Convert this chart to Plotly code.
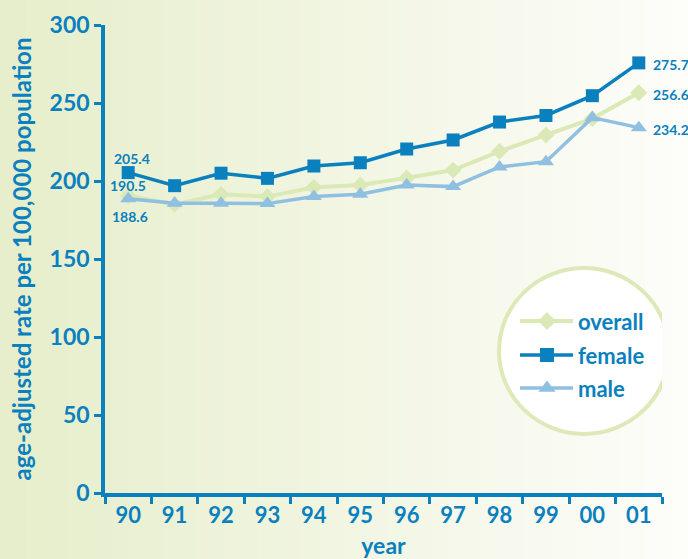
import plotly.graph_objects as go

# Age-adjusted rates per 100,000 population, 1990-2001
years = ["90", "91", "92", "93", "94", "95", "96", "97", "98", "99", "00", "01"]
overall = [190.5, 185.0, 191.5, 190.0, 196.0, 197.5, 202.0, 207.0, 219.0, 229.5, 240.0, 256.6]
female = [205.4, 197.0, 205.0, 201.7, 209.6, 211.7, 220.5, 226.3, 237.8, 242.0, 254.7, 275.7]
male = [188.6, 185.7, 185.7, 185.5, 190.0, 191.5, 197.4, 196.4, 209.0, 212.4, 240.6, 234.2]

y_ticks = [0, 50, 100, 150, 200, 250, 300]

BLUE = "#0a80be"
LIGHT_BLUE = "#8fbfe1"
GREEN = "#dbe9b7"
FONT = "Lato"

W, H = 688, 559
L, R, T, B = 105, 26, 25, 66
PW, PH = W - L - R, H - T - B

fig = go.Figure()

series = [
    ("overall", overall, GREEN, "diamond", 13, 4),
    ("male", male, LIGHT_BLUE, "triangle-up", 14, 3.5),
    ("female", female, BLUE, "square", 13, 3.5),
]
for name, vals, col, sym, size, lw in series:
    fig.add_trace(go.Scatter(
        x=years, y=vals, mode="lines+markers", name=name,
        line=dict(color=col, width=lw),
        marker=dict(symbol=sym, size=size, color=col),
        showlegend=False, cliponaxis=False,
    ))

# Legend samples drawn on a hidden pixel-scaled overlay axis pair
legend_rows = [("overall", GREEN, "diamond", 13, 4, 321),
               ("female", BLUE, "square", 13, 3.5, 355),
               ("male", LIGHT_BLUE, "triangle-up", 14, 3.5, 388)]
for name, col, sym, size, lw, py in legend_rows:
    fig.add_trace(go.Scatter(
        x=[520, 573], y=[py, py], mode="lines", xaxis="x2", yaxis="y2",
        line=dict(color=col, width=lw), showlegend=False, hoverinfo="skip"))
    fig.add_trace(go.Scatter(
        x=[547], y=[py], mode="markers", xaxis="x2", yaxis="y2",
        marker=dict(symbol=sym, size=size + 1, color=col), showlegend=False, hoverinfo="skip"))

annotations = []
for name, col, sym, size, lw, py in legend_rows:
    annotations.append(dict(x=576, y=py, xref="x2", yref="y2", text=name, showarrow=False,
                            xanchor="left", yanchor="middle",
                            font=dict(family=FONT, size=22, color=BLUE, weight="bold")))

# Value labels at the first and last year (category index positions)
lbl_font = dict(family=FONT, size=14, color=BLUE, weight="bold")
first, last = 0, len(years) - 1
value_labels = [
    dict(x=first, y=female[first], text=f"{female[first]:.1f}", xshift=4, yshift=14),
    dict(x=first, y=overall[first], text=f"{overall[first]:.1f}", xshift=0, yshift=10),
    dict(x=first, y=male[first], text=f"{male[first]:.1f}", xshift=2, yshift=-18),
]
for vals in (female, overall, male):
    value_labels.append(dict(x=last, y=vals[last], text=f"{vals[last]:.1f}",
                             xanchor="left", xshift=12, yshift=-2))
for a in value_labels:
    a.update(showarrow=False, font=lbl_font, yanchor="middle", xref="x", yref="y")
annotations += value_labels

# Background: horizontal gradient built from thin strips
shapes = []
n = 80
c0 = (230, 238, 203)
c1 = (253, 253, 250)
for i in range(n):
    f = i / (n - 1)
    col = "rgb({},{},{})".format(*[round(a + (b - a) * f) for a, b in zip(c0, c1)])
    x0 = (i * W / n - L) / PW
    x1 = ((i + 1) * W / n - L) / PW + 0.002
    shapes.append(dict(type="rect", xref="paper", yref="paper", x0=x0, x1=x1,
                       y0=-B / PH - 0.02, y1=(PH + T) / PH + 0.02,
                       fillcolor=col, line=dict(width=0), layer="below"))

# Legend ring
shapes.append(dict(type="circle", xref="x2", yref="y2", x0=499, x1=669, y0=268, y1=434,
                   fillcolor="#ffffff", line=dict(color="#dde9b9", width=4), layer="below"))

fig.update_layout(
    width=W, height=H,
    margin=dict(l=L, r=R, t=T, b=B, autoexpand=False),
    paper_bgcolor="#f1f5e0", plot_bgcolor="rgba(0,0,0,0)",
    shapes=shapes, annotations=annotations,
    xaxis=dict(
        type="category", categoryorder="array", categoryarray=years,
        range=[-0.5, 11.5], showgrid=False, zeroline=False, automargin=False,
        showline=True, linecolor=BLUE, linewidth=3.5,
        ticks="outside", tickson="boundaries", ticklen=7, tickwidth=3, tickcolor=BLUE,
        tickfont=dict(family=FONT, size=22, color=BLUE, weight="bold"),
        title=dict(text="year", font=dict(family=FONT, size=23, color=BLUE, weight="bold"), standoff=12),
    ),
    yaxis=dict(
        range=[0, 300], tickvals=y_ticks, showgrid=False, zeroline=False, automargin=False,
        showline=True, linecolor=BLUE, linewidth=3.5,
        ticks="outside", ticklen=7, tickwidth=3, tickcolor=BLUE,
        tickfont=dict(family=FONT, size=23, color=BLUE, weight="bold"),
        title=dict(text="age-adjusted rate per 100,000 population",
                   font=dict(family=FONT, size=24, color=BLUE, weight="bold"), standoff=12),
    ),
    xaxis2=dict(overlaying="x", range=[L, W - R], visible=False, fixedrange=True),
    yaxis2=dict(overlaying="y", range=[H - B, T], visible=False, fixedrange=True),
)

fig.write_html("out.html")
